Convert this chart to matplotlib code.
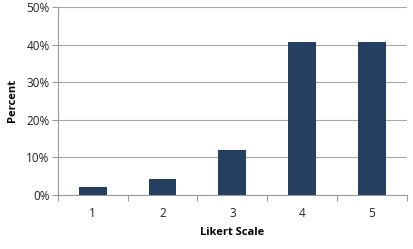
import matplotlib
matplotlib.use("Agg")
import matplotlib.pyplot as plt
from matplotlib.ticker import FixedLocator, FuncFormatter

categories = ["1", "2", "3", "4", "5"]
values = [2.1, 4.2, 12.0, 40.7, 40.7]
yticks = [0, 10, 20, 30, 40, 50]

plt.rcParams['font.family'] = ['Open Sans', 'DejaVu Sans']

fig = plt.figure(figsize=(4.13, 2.49), dpi=100)
ax = fig.add_axes([0.140, 0.217, 0.845, 0.755])

x = list(range(len(categories)))
ax.bar(x, values, width=0.4, color="#243f60", zorder=3)
ax.set_xlim(-0.5, len(categories) - 0.5)
ax.set_ylim(0, 50)
ax.set_yticks(yticks)
ax.yaxis.set_major_formatter(FuncFormatter(lambda v, p: f"{int(v)}%"))
ax.set_xticks(x)
ax.set_xticklabels(categories)
ax.xaxis.set_minor_locator(FixedLocator([i - 0.5 for i in range(len(categories) + 1)]))
ax.tick_params(axis='x', which='major', length=0, pad=9, labelsize=8.5, colors='#222222')
ax.tick_params(axis='x', which='minor', length=4, color='#999999', width=0.8)
ax.tick_params(axis='y', length=4, color='#999999', width=0.8, labelsize=8.5, pad=2, labelcolor='#222222')
ax.grid(axis='y', color='#a8a8a8', linewidth=0.8, zorder=0)
for s in ['top', 'right']:
    ax.spines[s].set_visible(False)
ax.spines['left'].set_color('#999999')
ax.spines['bottom'].set_color('#999999')
ax.spines['left'].set_linewidth(0.8)
ax.spines['bottom'].set_linewidth(0.8)

ax.set_xlabel("Likert Scale", fontsize=8, fontweight='bold', labelpad=5)
ax.set_ylabel("Percent", fontsize=8, fontweight='bold', labelpad=6)

fig.savefig("out.png", dpi=100)
